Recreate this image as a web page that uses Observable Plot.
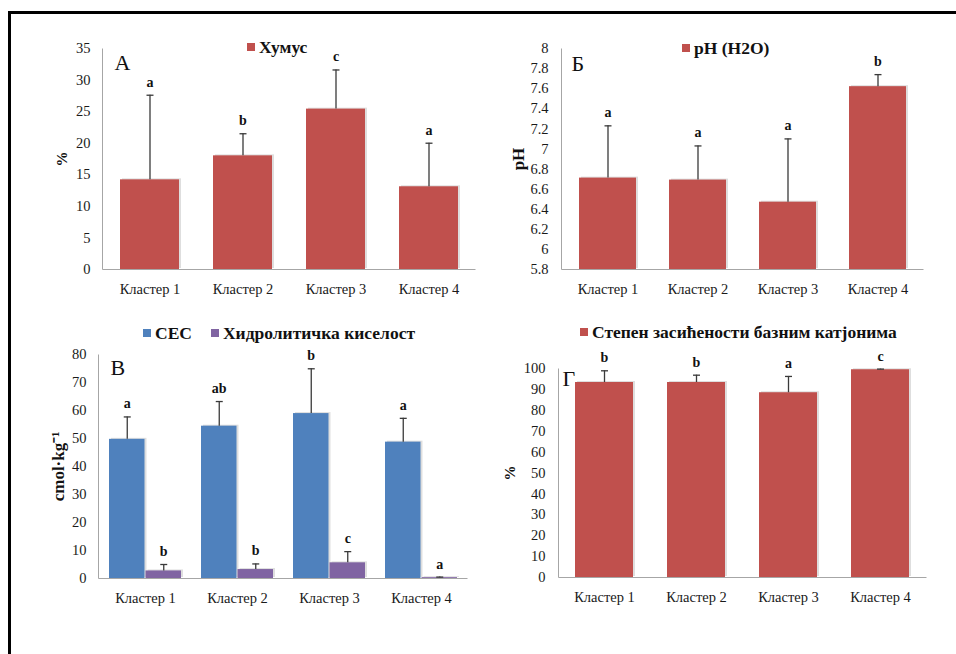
<!DOCTYPE html>
<html>
<head>
<meta charset="utf-8">
<script src="https://cdn.jsdelivr.net/npm/d3@7"></script>
<script src="https://cdn.jsdelivr.net/npm/@observablehq/plot@0.6"></script>
<style>
  html, body { margin: 0; padding: 0; background: white; }
  #wrap { position: relative; width: 956px; height: 654px; overflow: hidden; font-family: "Liberation Serif", "Times New Roman", serif; }
  .pnl { position: absolute; }
  .legend { position: absolute; height: 20px; display: flex; align-items: center; font-weight: bold; font-size: 17.5px; color: #111; white-space: nowrap; }
  .legend .sw { width: 8px; height: 8px; margin-right: 4px; display: inline-block; }
  .legend .item { display: flex; align-items: center; }
  #border { position: absolute; left: 8px; top: 11px; width: 960px; height: 660px; border-left: 3px solid #000; border-top: 3px solid #000; pointer-events: none; z-index: 10; }
</style>
</head>
<body>
<div id="wrap"></div>
<script>
// ---------- data ----------
const clusters = ["Кластер 1", "Кластер 2", "Кластер 3", "Кластер 4"];

const humus = [14.2, 18.0, 25.4, 13.1];
const humusErr = [13.4, 3.5, 6.2, 6.9];
const humusLetters = ["a", "b", "c", "a"];
const humusTicks = [0, 5, 10, 15, 20, 25, 30, 35];

const ph = [6.71, 6.69, 6.47, 7.62];
const phErr = [0.52, 0.34, 0.63, 0.12];
const phLetters = ["a", "a", "a", "b"];
const phTicks = [5.8, 6.0, 6.2, 6.4, 6.6, 6.8, 7.0, 7.2, 7.4, 7.6, 7.8, 8.0];

const cec = [49.7, 54.4, 58.9, 48.7];
const cecErr = [8.0, 8.8, 16.0, 8.5];
const cecLetters = ["a", "ab", "b", "a"];
const hydro = [2.7, 3.2, 5.6, 0.3];
const hydroErr = [2.3, 2.0, 4.0, 0.2];
const hydroLetters = ["b", "b", "c", "a"];
const cecTicks = [0, 10, 20, 30, 40, 50, 60, 70, 80];

const bsat = [93.3, 93.3, 88.4, 99.4];
const bsatErr = [5.6, 3.5, 7.8, 0.3];
const bsatLetters = ["b", "b", "a", "c"];
const bsatTicks = [0, 10, 20, 30, 40, 50, 60, 70, 80, 90, 100];

// ---------- styling ----------
const RED = "#c0504d", BLUE = "#4f81bd", PURPLE = "#8064a2";
const AXIS = "#a6a6a6", ERR = "#3a3a3a";
const FONT = "'Liberation Serif', 'Times New Roman', serif";
const capSym = { draw(c) { c.moveTo(-3.5, 0); c.lineTo(3.5, 0); } };

const rows = (vals, errs, letters) => clusters.map((c, i) => ({ cluster: c, value: vals[i], err: errs[i], top: vals[i] + errs[i], letter: letters[i] }));

function axisFrame(w, h, m) {
  const fw = w - m.l - m.r, fh = h - m.t - m.b;
  return Plot.frame({ stroke: AXIS, strokeWidth: 1, strokeDasharray: `0 ${fw + fh} ${fw + fh}` });
}

function barMarks(data, { fill, base, edx = 0, insetL = 0, insetR = 0 }) {
  return [
    Plot.barY(data, { x: "cluster", y1: base, y2: "value", fill: "#000", fillOpacity: 0.13, dx: 2, dy: -1, insetLeft: insetL, insetRight: insetR }),
    Plot.barY(data, { x: "cluster", y1: base, y2: "value", fill, insetLeft: insetL, insetRight: insetR }),
    Plot.ruleX(data, { x: "cluster", y1: "value", y2: "top", stroke: ERR, strokeWidth: 1.3, dx: edx }),
    Plot.dot(data, { x: "cluster", y: "top", symbol: capSym, r: 3, fill: "none", stroke: ERR, strokeWidth: 1.3, dx: edx }),
    Plot.text(data, { x: "cluster", y: "top", text: "letter", dy: -13, dx: edx, fontWeight: "bold", fontSize: 14, fill: "#111" })
  ];
}

function panelLetter(t, dx, dy) {
  return Plot.text([t], { text: d => d, frameAnchor: "top-left", textAnchor: "start", lineAnchor: "top", dx, dy, fontSize: 22, fill: "#111" });
}
function yLabel(t, dx, size = 15) {
  return Plot.text([t], { text: d => d, frameAnchor: "left", rotate: -90, dx, fontWeight: "bold", fontSize: size, fill: "#111", textAnchor: "middle", lineAnchor: "middle" });
}

const baseStyle = { fontFamily: FONT, fontSize: "14.5px", color: "#1a1a1a", background: "transparent", overflow: "visible" };

function place(svg, left, top) {
  const d = document.createElement("div");
  d.className = "pnl"; d.style.left = left + "px"; d.style.top = top + "px";
  d.appendChild(svg);
  document.getElementById("wrap").appendChild(d);
}
function legend(left, centerY, items) {
  const d = document.createElement("div");
  d.className = "legend"; d.style.left = left + "px"; d.style.top = (centerY - 10) + "px";
  items.forEach(([label, color], i) => {
    const it = document.createElement("span");
    it.className = "item";
    if (i > 0) it.style.marginLeft = "19px";
    const sw = document.createElement("span"); sw.className = "sw"; sw.style.background = color;
    const tx = document.createElement("span"); tx.textContent = label;
    it.appendChild(sw); it.appendChild(tx);
    d.appendChild(it);
  });
  document.getElementById("wrap").appendChild(d);
}

// ---------- Panel А ----------
{
  const W = 480, H = 320, m = { l: 102, r: 5, t: 48, b: 51 };
  const p = Plot.plot({
    width: W, height: H, marginLeft: m.l, marginRight: m.r, marginTop: m.t, marginBottom: m.b,
    style: baseStyle,
    x: { domain: clusters, paddingInner: 0.367, paddingOuter: 0.183, tickSize: 0, tickPadding: 14, label: null },
    y: { domain: [0, 35], ticks: humusTicks, tickSize: 0, tickPadding: 12, label: null },
    marks: [
      axisFrame(W, H, m),
      ...barMarks(rows(humus, humusErr, humusLetters), { fill: RED, base: humusTicks[0] }),
      panelLetter("А", 12, 6),
      yLabel("%", -40)
    ]
  });
  place(p, 0, 0);
  legend(247, 47, [["Хумус", RED]]);
}

// ---------- Panel Б ----------
{
  const W = 476, H = 320, m = { l: 81, r: 33, t: 48, b: 51 };
  const p = Plot.plot({
    width: W, height: H, marginLeft: m.l, marginRight: m.r, marginTop: m.t, marginBottom: m.b,
    style: baseStyle,
    x: { domain: clusters, paddingInner: 0.37, paddingOuter: 0.185, tickSize: 0, tickPadding: 14, label: null },
    y: { domain: [phTicks[0], phTicks[phTicks.length - 1]], ticks: phTicks, tickFormat: d => String(+d.toFixed(1)), tickSize: 0, tickPadding: 13, label: null },
    marks: [
      axisFrame(W, H, m),
      ...barMarks(rows(ph, phErr, phLetters), { fill: RED, base: phTicks[0] }),
      panelLetter("Б", 10, 7),
      yLabel("pH", -43, 17)
    ]
  });
  place(p, 480, 0);
  legend(682, 48, [["pH (H2O)", RED]]);
}

// ---------- Panel В ----------
{
  const W = 480, H = 334, m = { l: 98, r: 13, t: 34, b: 76 };
  const off = 18.25;
  const p = Plot.plot({
    width: W, height: H, marginLeft: m.l, marginRight: m.r, marginTop: m.t, marginBottom: m.b,
    style: baseStyle,
    x: { domain: clusters, padding: 0, tickSize: 0, tickPadding: 14, label: null },
    y: { domain: [0, 80], ticks: cecTicks, tickSize: 0, tickPadding: 12, label: null },
    marks: [
      axisFrame(W, H, m),
      ...barMarks(rows(cec, cecErr, cecLetters), { fill: BLUE, base: cecTicks[0], edx: -off, insetL: 10, insetR: 46.5 }),
      ...barMarks(rows(hydro, hydroErr, hydroLetters), { fill: PURPLE, base: cecTicks[0], edx: off, insetL: 46.5, insetR: 10 }),
      panelLetter("В", 12, 5),
      yLabel("cmol·kg⁻¹", -40, 17)
    ]
  });
  place(p, 0, 320);
  legend(143, 333, [["CEC", BLUE], ["Хидролитичка киселост", PURPLE]]);
}

// ---------- Panel Г ----------
{
  const W = 476, H = 334, m = { l: 78, r: 30, t: 48, b: 77 };
  const p = Plot.plot({
    width: W, height: H, marginLeft: m.l, marginRight: m.r, marginTop: m.t, marginBottom: m.b,
    style: baseStyle,
    x: { domain: clusters, paddingInner: 0.373, paddingOuter: 0.186, tickSize: 0, tickPadding: 14, label: null },
    y: { domain: [0, 100], ticks: bsatTicks, tickSize: 0, tickPadding: 13, label: null },
    marks: [
      axisFrame(W, H, m),
      panelLetter("Г", 4, 2),
      ...barMarks(rows(bsat, bsatErr, bsatLetters), { fill: RED, base: bsatTicks[0] }),
      yLabel("%", -48)
    ]
  });
  place(p, 480, 320);
  legend(580, 332, [["Степен засићености базним катјонима", RED]]);
}

const b = document.createElement("div"); b.id = "border";
document.getElementById("wrap").appendChild(b);
</script>
</body>
</html>
